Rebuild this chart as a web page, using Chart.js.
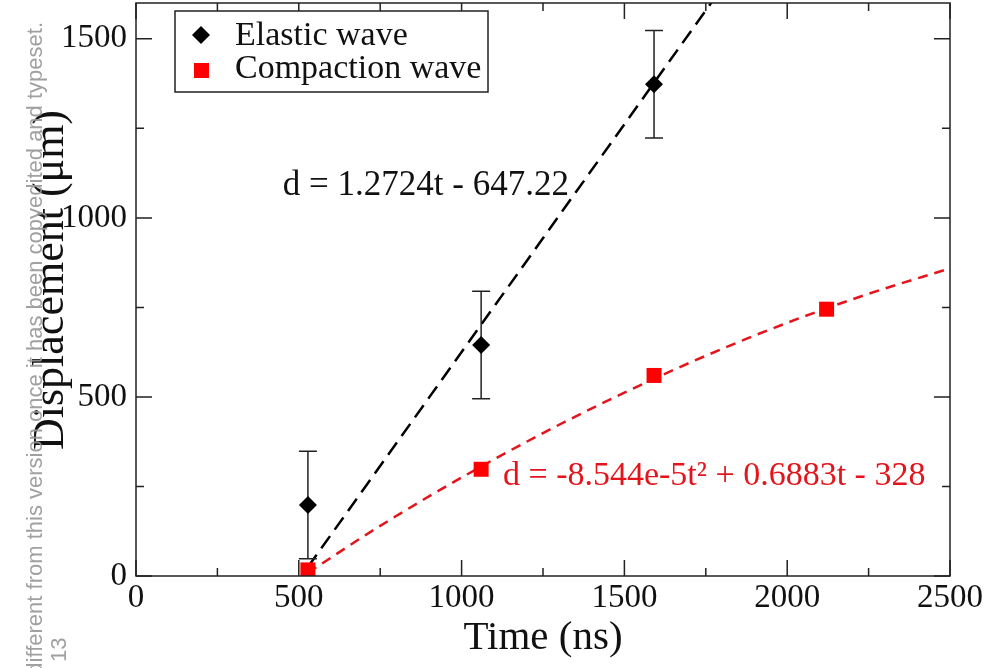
<!DOCTYPE html>
<html><head><meta charset="utf-8">
<script src="https://cdn.jsdelivr.net/npm/chart.js@4.4.0/dist/chart.umd.min.js"></script>
<style>html,body{margin:0;padding:0;background:#fff;}canvas{display:block;}</style>
</head><body>
<canvas id="c" width="990" height="668"></canvas>
<script>
// ---- data ----
const elasticTime = [528, 1060, 1591];
const elasticDisp = [198, 645, 1373];
const elasticErr = [150, 150, 150];
const compactionTime = [528, 1060, 1591, 2121];
const compactionDisp = [17, 298, 560, 745];
const elasticFitTime = [528, 1800];
const elasticFitDisp = [25, 1643];
const compactionFitTime = [528, 750, 1000, 1250, 1500, 1750, 2000, 2250, 2500];
const compactionFitDisp = [9, 140, 275, 399, 512, 615, 707, 788, 859];
const xTicks = [0, 500, 1000, 1500, 2000, 2500];
const xMinorTicks = [250, 750, 1250, 1750, 2250];
const yTicks = [0, 500, 1000, 1500];
const yMinorTicks = [250, 750, 1250];
const seriesLabels = ['Elastic wave', 'Compaction wave'];
const fitLabels = ['d = 1.2724t - 647.22', 'd = -8.544e-5t\u00b2 + 0.6883t - 328'];
const fitLabelAnchors = [[451, 1064], [1127, 254]];
const xTitle = 'Time (ns)';
const yTitle = 'Displacement (\u03bcm)';
const watermark = ['different from this version once it has been copyedited and typeset.', '13'];

const SERIF = '"Liberation Serif", "Times New Roman", serif';
const RED = '#ff0000';
const toXY = (xs, ys) => xs.map((v, i) => ({x: v, y: ys[i]}));

const decor = {
  id: 'decor',
  beforeDatasetDraw(chart, args) {
    if (args.index !== 0) return;
    const {ctx, scales: {x, y}} = chart;
    ctx.save();
    ctx.strokeStyle = '#222'; ctx.lineWidth = 1.5;
    elasticTime.forEach((t, i) => {
      const px = x.getPixelForValue(t);
      const top = y.getPixelForValue(elasticDisp[i] + elasticErr[i]);
      const bot = y.getPixelForValue(elasticDisp[i] - elasticErr[i]);
      ctx.beginPath();
      ctx.moveTo(px, top); ctx.lineTo(px, bot);
      ctx.moveTo(px - 9, top); ctx.lineTo(px + 9, top);
      ctx.moveTo(px - 9, bot); ctx.lineTo(px + 9, bot);
      ctx.stroke();
    });
    ctx.restore();
  },
  afterDatasetsDraw(chart) {
    const {ctx, chartArea: a, scales: {x, y}} = chart;
    ctx.save();
    // frame
    ctx.strokeStyle = '#222'; ctx.lineWidth = 1.5;
    ctx.strokeRect(a.left, a.top, a.right - a.left, a.bottom - a.top);
    // inward ticks on all sides
    ctx.beginPath();
    const xt = (v, len) => { const p = x.getPixelForValue(v);
      ctx.moveTo(p, a.bottom); ctx.lineTo(p, a.bottom - len);
      ctx.moveTo(p, a.top); ctx.lineTo(p, a.top + len); };
    const yt = (v, len) => { const p = y.getPixelForValue(v);
      ctx.moveTo(a.left, p); ctx.lineTo(a.left + len, p);
      ctx.moveTo(a.right, p); ctx.lineTo(a.right - len, p); };
    xTicks.forEach(v => xt(v, 16)); xMinorTicks.forEach(v => xt(v, 8));
    yTicks.forEach(v => yt(v, 16)); yMinorTicks.forEach(v => yt(v, 8));
    ctx.stroke();
    // fit equations
    ctx.textAlign = 'left'; ctx.textBaseline = 'alphabetic';
    ctx.font = '35px ' + SERIF; ctx.fillStyle = '#111';
    ctx.fillText(fitLabels[0], x.getPixelForValue(fitLabelAnchors[0][0]), y.getPixelForValue(fitLabelAnchors[0][1]));
    ctx.font = '34px ' + SERIF; ctx.fillStyle = '#e3141b';
    ctx.fillText(fitLabels[1], x.getPixelForValue(fitLabelAnchors[1][0]), y.getPixelForValue(fitLabelAnchors[1][1]));
    // legend
    ctx.fillStyle = '#fff'; ctx.fillRect(175, 11, 313, 81);
    ctx.strokeStyle = '#222'; ctx.lineWidth = 1.5; ctx.strokeRect(175, 11, 313, 81);
    ctx.fillStyle = '#000';
    ctx.beginPath(); ctx.moveTo(201, 26); ctx.lineTo(210, 35); ctx.lineTo(201, 44); ctx.lineTo(192, 35); ctx.closePath(); ctx.fill();
    ctx.fillStyle = RED; ctx.fillRect(194, 63, 15, 15);
    ctx.fillStyle = '#111'; ctx.font = '34px ' + SERIF;
    ctx.fillText(seriesLabels[0], 235, 45);
    ctx.fillText(seriesLabels[1], 235, 78);
    ctx.restore();
  },
  afterDraw(chart) {
    const {ctx} = chart;
    // y-axis title
    ctx.save();
    ctx.fillStyle = '#111';
    ctx.font = '44px ' + SERIF;
    ctx.textAlign = 'center'; ctx.textBaseline = 'alphabetic';
    ctx.translate(63, 280); ctx.rotate(-Math.PI / 2);
    ctx.fillText(yTitle, 0, 0);
    ctx.restore();
    // watermark
    ctx.save();
    ctx.fillStyle = 'rgba(150,150,150,0.9)';
    ctx.font = '22px "Liberation Sans", Arial, sans-serif';
    ctx.textAlign = 'right'; ctx.textBaseline = 'alphabetic';
    ctx.translate(42, 22); ctx.rotate(-Math.PI / 2);
    ctx.fillText(watermark[0], 0, 0);
    ctx.restore();
    ctx.save();
    ctx.fillStyle = 'rgba(150,150,150,0.9)';
    ctx.font = '22px "Liberation Sans", Arial, sans-serif';
    ctx.textAlign = 'left'; ctx.textBaseline = 'alphabetic';
    ctx.translate(66, 662); ctx.rotate(-Math.PI / 2);
    ctx.fillText(watermark[1], 0, 0);
    ctx.restore();
  }
};

new Chart(document.getElementById('c'), {
  type: 'scatter',
  data: {datasets: [
    {label: seriesLabels[0], data: toXY(elasticTime, elasticDisp), pointStyle: 'rectRot', pointRadius: 9,
     backgroundColor: '#000', borderColor: '#000', borderWidth: 0, order: 0},
    {label: seriesLabels[1], data: toXY(compactionTime, compactionDisp), pointStyle: 'rect', pointRadius: 10.6,
     backgroundColor: RED, borderColor: RED, borderWidth: 0, order: 0},
    {label: fitLabels[0], data: toXY(elasticFitTime, elasticFitDisp), showLine: true, pointRadius: 0,
     borderColor: '#000', borderWidth: 2.5, borderDash: [15, 8], order: 2},
    {label: fitLabels[1], data: toXY(compactionFitTime, compactionFitDisp), showLine: true, pointRadius: 0,
     cubicInterpolationMode: 'monotone', borderColor: '#e3141b', borderWidth: 2.5, borderDash: [10, 7], order: 2}
  ]},
  options: {
    responsive: false, animation: false, devicePixelRatio: 1, events: [],
    layout: {autoPadding: false, padding: {top: 3, right: 40, left: 0, bottom: 0}},
    plugins: {legend: {display: false}, tooltip: {enabled: false}},
    scales: {
      x: {
        type: 'linear', min: 0, max: 2500,
        afterBuildTicks: s => { s.ticks = xTicks.map(v => ({value: v})); },
        afterFit: s => { s.height = 92; s.paddingLeft = 0; s.paddingRight = 0; },
        grid: {display: false, drawTicks: false}, border: {display: false},
        ticks: {color: '#111', font: {family: SERIF, size: 33}, padding: 3, maxRotation: 0, callback: v => String(v)},
        title: {display: true, text: xTitle, color: '#111', font: {family: SERIF, size: 41}, padding: {top: 0, bottom: 5}}
      },
      y: {
        type: 'linear', min: 0, max: 1600,
        afterBuildTicks: s => { s.ticks = yTicks.map(v => ({value: v})); },
        afterFit: s => { s.width = 136; s.paddingTop = 0; s.paddingBottom = 0; },
        grid: {display: false, drawTicks: false}, border: {display: false},
        ticks: {color: '#111', font: {family: SERIF, size: 33}, padding: 9, callback: v => String(v)},
        title: {display: false, text: yTitle}
      }
    }
  },
  plugins: [decor]
});
</script>
</body></html>
